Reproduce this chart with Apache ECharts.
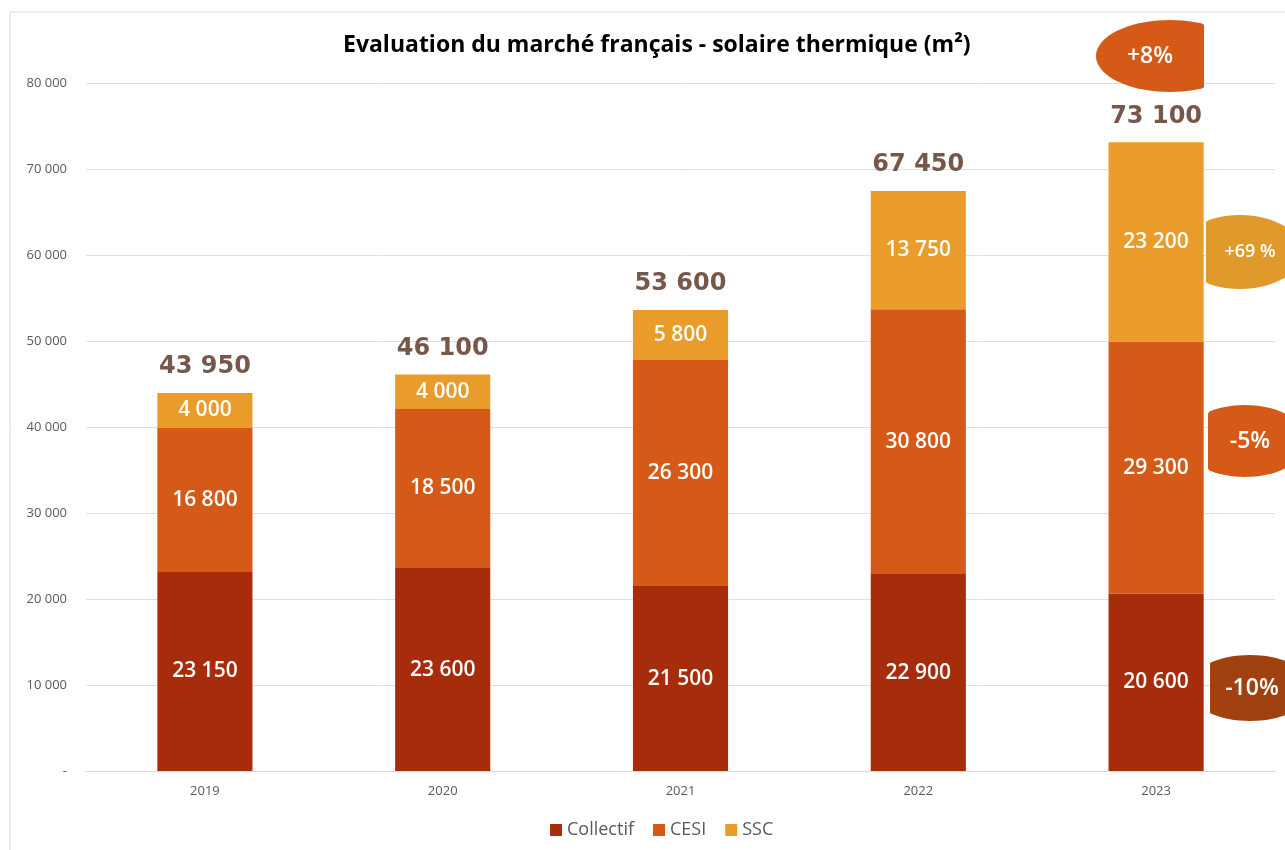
<!DOCTYPE html>
<html>
<head>
<meta charset="utf-8">
<script src="https://cdn.jsdelivr.net/npm/echarts@6/dist/echarts.min.js"></script>
<style>
  html, body { margin: 0; padding: 0; background: #fff; }
  #main { width: 1285px; height: 850px; }
</style>
</head>
<body>
<div id="main"></div>
<script>
// données
var years = ['2019', '2020', '2021', '2022', '2023'];
var collectif = [23150, 23600, 21500, 22900, 20600];
var cesi = [16800, 18500, 26300, 30800, 29300];
var ssc = [4000, 4000, 5800, 13750, 23200];
var yTicks = [0, 10000, 20000, 30000, 40000, 50000, 60000, 70000, 80000];
var evolutions = ['+8%', '+69 %', '-5%', '-10%'];

var totals = years.map(function (y, i) { return collectif[i] + cesi[i] + ssc[i]; });

function fmt(v) {
    return String(v).replace(/\B(?=(\d{3})+(?!\d))/g, ' ');
}

// bulle ovale coupée d'un côté (décor)
function bubble(cx, cy, rx, ry, xmin, xmax, color, text, fontSize, tx) {
    var pts = [];
    for (var k = 0; k < 72; k++) {
        var t = k / 72 * Math.PI * 2;
        var x = cx + rx * Math.cos(t);
        x = Math.max(xmin, Math.min(xmax, x));
        pts.push([x, cy + ry * Math.sin(t)]);
    }
    return [
        { type: 'polygon', z: 10, shape: { points: pts }, style: { fill: color } },
        { type: 'text', z: 11, x: tx, y: cy, style: {
            text: text, fill: '#fff', fontSize: fontSize, fontWeight: 600,
            fontFamily: 'Open Sans', align: 'center', verticalAlign: 'middle'
        } }
    ];
}

var chart = echarts.init(document.getElementById('main'));

var labelInside = {
    show: true,
    position: 'inside',
    color: '#fff',
    fontSize: 21,
    fontWeight: 600,
    fontFamily: 'Open Sans',
    formatter: function (p) { return fmt(p.value); }
};

var option = {
    animation: false,
    title: {
        text: 'Evaluation du marché français - solaire thermique (m²)',
        left: 338,
        top: 29,
        textStyle: { color: '#000', fontSize: 23, fontWeight: 'bold', fontFamily: 'Open Sans' }
    },
    legend: {
        bottom: 6,
        left: 545,
        itemWidth: 12,
        itemHeight: 12,
        itemGap: 19,
        icon: 'rect',
        textStyle: { color: '#595959', fontSize: 18, fontFamily: 'Open Sans' },
        data: ['Collectif', 'CESI', 'SSC']
    },
    grid: { left: 86, right: 10, top: 83, bottom: 79 },
    xAxis: {
        type: 'category',
        data: years,
        axisLine: { lineStyle: { color: '#d9d9d9' } },
        axisTick: { show: false },
        axisLabel: { color: '#595959', fontSize: 13, margin: 14, fontFamily: 'Open Sans' }
    },
    yAxis: {
        type: 'value',
        min: yTicks[0],
        max: yTicks[yTicks.length - 1],
        interval: 10000,
        axisLine: { show: false },
        axisTick: { show: false },
        splitLine: { lineStyle: { color: '#e0e0e0' } },
        axisLabel: {
            color: '#595959', fontSize: 13, margin: 19, fontFamily: 'Open Sans',
            formatter: function (v) { return v === 0 ? '-' : fmt(v); }
        }
    },
    series: [
        { name: 'Collectif', type: 'bar', stack: 'total', barWidth: '40%', data: collectif, label: labelInside },
        { name: 'CESI', type: 'bar', stack: 'total', data: cesi, label: labelInside },
        { name: 'SSC', type: 'bar', stack: 'total', data: ssc, label: labelInside },
        {
            // étiquettes des totaux au sommet de la pile
            name: 'Total', type: 'bar', stack: 'total', silent: true,
            data: totals.map(function () { return 0; }),
            label: {
                show: true, position: 'top', distance: 14,
                color: '#76584a', fontSize: 24, fontWeight: 'bold', fontFamily: 'DejaVu Sans',
                formatter: function (p) { return fmt(totals[p.dataIndex]); }
            }
        }
    ],
    color: ['#a72c0c', '#d55a17', '#ea9c2a', '#ffffff'],
    graphic: [
        { type: 'rect', z: -1, shape: { x: 10, y: 12, width: 1300, height: 900 },
          style: { fill: 'none', stroke: '#d9d9d9', lineWidth: 1 } }
    ].concat(
        bubble(1170, 56, 74, 36, 0, 1204, '#d55a17', evolutions[0], 23, 1150),
        bubble(1240, 252, 62, 37, 1206, 2000, '#e09a2b', evolutions[1], 18, 1250),
        bubble(1245, 441, 62, 36, 1208, 2000, '#d55a17', evolutions[2], 23, 1250),
        bubble(1250, 688, 62, 33, 1210, 2000, '#a0410f', evolutions[3], 23, 1252)
    )
};

chart.setOption(option);
</script>
</body>
</html>
